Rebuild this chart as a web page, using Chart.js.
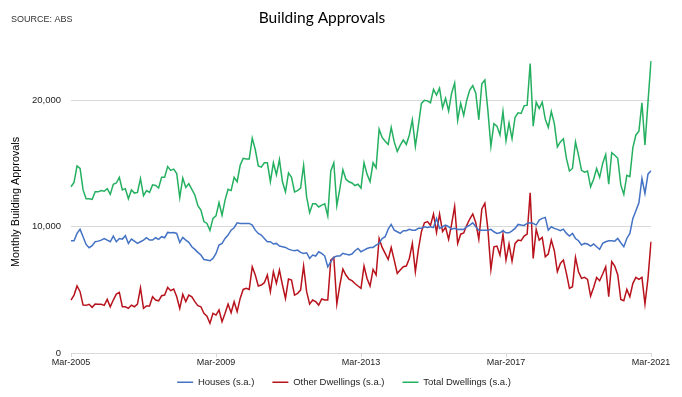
<!DOCTYPE html>
<html><head><meta charset="utf-8">
<script src="https://cdn.jsdelivr.net/npm/chart.js@4.4.0/dist/chart.umd.min.js"></script>
<style>html,body{margin:0;padding:0;background:#fff}#wrap{position:relative;width:682px;height:397px}</style>
</head><body><div id="wrap"><canvas id="c" width="682" height="397"></canvas></div>
<script>
// Monthly categories Mar-2005 .. Mar-2021
const monthNames = ['Jan','Feb','Mar','Apr','May','Jun','Jul','Aug','Sep','Oct','Nov','Dec'];
const categories = [];
for (let y = 2005, m = 2; !(y === 2021 && m > 2); ) {
  categories.push(monthNames[m] + '-' + y);
  m++; if (m === 12) { m = 0; y++; }
}
const xTickLabels = ['Mar-2005','Mar-2009','Mar-2013','Mar-2017','Mar-2021'];
const yTickValues = [0, 10000, 20000];

const houses = [
8880,8880,9460,9780,9200,8590,8330,8490,8800,8850,8930,9060,8930,8800,9250,8800,9060,9010,9280,8670,
9010,8850,8670,8800,8930,9120,8930,8930,9120,8990,9200,9120,9540,9510,9540,9460,8750,9140,8930,8750,
8410,8200,7960,7750,7400,7350,7300,7480,7880,8540,8670,9060,9330,9720,9910,10300,10250,10250,10250,10250,
10120,9720,9460,9330,9060,8800,8800,8620,8670,8460,8410,8350,8220,8140,8090,8140,7960,7880,7930,7480,
7750,7670,8010,7880,7670,6820,7220,7560,7670,7670,7880,7820,7750,7830,8090,8270,8010,8140,8270,8350,
8350,8540,8670,9060,9200,9800,10170,9720,9590,9460,9670,9670,9780,9720,9720,9860,9860,9990,9930,9990,
9930,10650,9860,9990,10120,9990,9800,9860,9780,9800,9780,9990,10120,10300,9990,9720,9720,9720,9720,9780,
9590,9460,9510,9670,9510,9510,9670,9860,10170,10120,10090,10250,10300,10250,10120,10510,10650,10730,9720,9990,
9860,9780,9670,9800,9460,9250,9460,9060,8880,8540,8670,8620,8460,8620,8410,8200,8670,8800,8880,8880,
8850,9060,8720,8410,9060,9460,10650,11250,11880,13810,12620,14150,14410];

const otherDwellings = [
4190,4580,5300,4850,3790,3770,3850,3610,3870,3850,3850,3770,4240,3660,4190,4660,4800,3660,3660,3530,
3790,3660,3870,5160,3530,3720,3720,4450,4190,4130,4530,4580,5190,4930,5060,4450,3530,4640,4060,4580,
4450,4060,3740,3660,3140,2920,2350,3140,3000,3400,2480,3140,3870,3190,4060,3270,4320,5030,5110,5030,
6820,6170,5300,5380,5560,6170,4850,6430,5510,6560,5380,4320,5850,5770,4580,4720,4980,6880,4850,3870,
4190,4060,3790,4270,4190,4190,7350,7560,3870,5380,6640,6170,5850,5720,5500,5300,5110,6880,5900,5300,
6610,6170,9060,8350,7880,7400,8350,7350,6300,6560,6820,6880,7480,8670,6430,8200,9600,10300,10400,10100,
11000,9550,11000,9600,9950,9000,10200,11600,8670,9400,9500,10100,10600,11000,10300,9000,11400,11850,9800,6600,
8400,8460,7750,9410,7350,8620,7270,8670,8930,8880,9250,9410,12670,7480,9780,8930,9140,7620,7830,8930,
8090,6430,7090,7350,6300,5110,5240,7560,6430,5900,5980,5820,4510,5190,5980,5720,6250,6820,4450,7220,
6880,6170,4240,4130,5030,4450,5510,5980,5820,5980,3870,5900,8800];

const totalDwellings = [
13150,13500,14800,14600,12900,12200,12200,12150,12750,12750,12850,12800,13000,12550,13350,13450,13900,12900,13000,12200,
12900,12650,12700,13800,12450,12850,12700,13300,13250,13050,13900,13900,14750,14450,14550,14200,12300,13850,13100,13400,
12950,12500,11650,11300,10400,10250,9700,10650,10850,11900,10900,12100,12950,12850,13900,13550,14850,15400,15350,15350,
17000,16100,14800,14700,15050,15050,13550,15050,14100,15300,13550,12750,14250,13900,12750,12850,13050,14850,12350,11100,
11800,11800,11550,11700,11800,10850,14400,15050,11650,13000,14500,13750,13550,13450,13250,13350,13050,15050,14150,13550,
15050,14650,17700,17050,16750,16500,17850,16700,15950,16450,16850,16500,17250,18450,16350,18000,19750,20000,19950,19800,
20850,20400,20950,19400,20150,19150,20550,21350,18400,19750,18800,20000,20800,21150,20550,18450,21300,21600,19200,16350,
18150,17950,17250,19100,16800,18200,16950,18650,19000,18950,19550,19600,22900,17950,19850,19350,19850,18500,17850,19100,
18150,16300,16700,16950,15400,14400,14600,16700,15650,14450,14300,14400,13150,13750,14600,13900,15000,15700,13350,15850,
15650,15400,13300,12550,14050,13950,16250,17250,17550,19800,16450,19850,23100];

const FONT = '"Liberation Sans", Arial, sans-serif';
const Y_FONT_SIZE = 9.5;

// measure widest y label so mirrored labels end at a fixed x
const mctx = document.createElement('canvas').getContext('2d');
mctx.font = Y_FONT_SIZE + 'px ' + FONT;
const yWidest = Math.max(...yTickValues.map(v => mctx.measureText(v.toLocaleString('en-US')).width));

const textPlugin = {
  id: 'texts',
  afterDraw(chart) {
    const ctx = chart.ctx;
    ctx.save();
    ctx.fillStyle = '#000';
    ctx.textBaseline = 'alphabetic';
    ctx.textAlign = 'center';
    ctx.font = '15.5px Lato, "Open Sans", sans-serif';
    ctx.fillText('Building Approvals', 322, 23);
    ctx.textAlign = 'left';
    ctx.fillStyle = '#333';
    ctx.font = '9px ' + FONT;
    ctx.fillText('SOURCE: ABS', 11, 22);
    ctx.fillStyle = '#000';
    ctx.translate(19, 202);
    ctx.rotate(-Math.PI / 2);
    ctx.textAlign = 'center';
    ctx.font = '10.8px ' + FONT;
    ctx.fillText('Monthly Building Approvals', 0, 0);
    ctx.restore();
  }
};

new Chart(document.getElementById('c'), {
  type: 'line',
  data: {
    labels: categories,
    datasets: [
      { label: 'Houses (s.a.)', data: houses, borderColor: '#4472C4', backgroundColor: '#4472C4', borderWidth: 1.5, pointRadius: 0, tension: 0 },
      { label: 'Other Dwellings (s.a.)', data: otherDwellings, borderColor: '#B8121C', backgroundColor: '#B8121C', borderWidth: 1.5, pointRadius: 0, tension: 0 },
      { label: 'Total Dwellings (s.a.)', data: totalDwellings, borderColor: '#24B060', backgroundColor: '#24B060', borderWidth: 1.5, pointRadius: 0, tension: 0 }
    ]
  },
  options: {
    responsive: false,
    animation: false,
    layout: { padding: { left: 37, right: 31, top: 37, bottom: 0 } },
    plugins: {
      title: { display: false },
      tooltip: { enabled: false },
      legend: {
        position: 'bottom',
        labels: {
          usePointStyle: true, pointStyle: 'line', pointStyleWidth: 16,
          padding: 18, color: '#222',
          font: { family: FONT, size: 9.5 }
        }
      }
    },
    scales: {
      x: {
        type: 'category',
        offset: false,
        afterBuildTicks(scale) { scale.ticks = scale.ticks.filter(t => xTickLabels.includes(categories[t.value])); },
        afterFit(scale) { scale.height = 6.5; },
        grid: { display: true, drawOnChartArea: false, tickLength: 4, color: '#d9d9d9' },
        border: { display: true, color: '#d9d9d9' },
        ticks: { autoSkip: false, maxRotation: 0, mirror: true, padding: -14.5, color: '#222', font: { family: FONT, size: 9 } }
      },
      y: {
        min: 0, max: 25000,
        afterBuildTicks(scale) { scale.ticks = yTickValues.map(v => ({ value: v })); },
        afterFit(scale) { scale.width = 34; },
        grid: { color: '#d9d9d9', drawTicks: false },
        border: { display: false },
        ticks: { mirror: true, crossAlign: 'far', padding: -10 - yWidest, color: '#222', font: { family: FONT, size: Y_FONT_SIZE }, callback: v => v.toLocaleString('en-US') }
      }
    }
  },
  plugins: [textPlugin]
});
</script>
</body></html>
